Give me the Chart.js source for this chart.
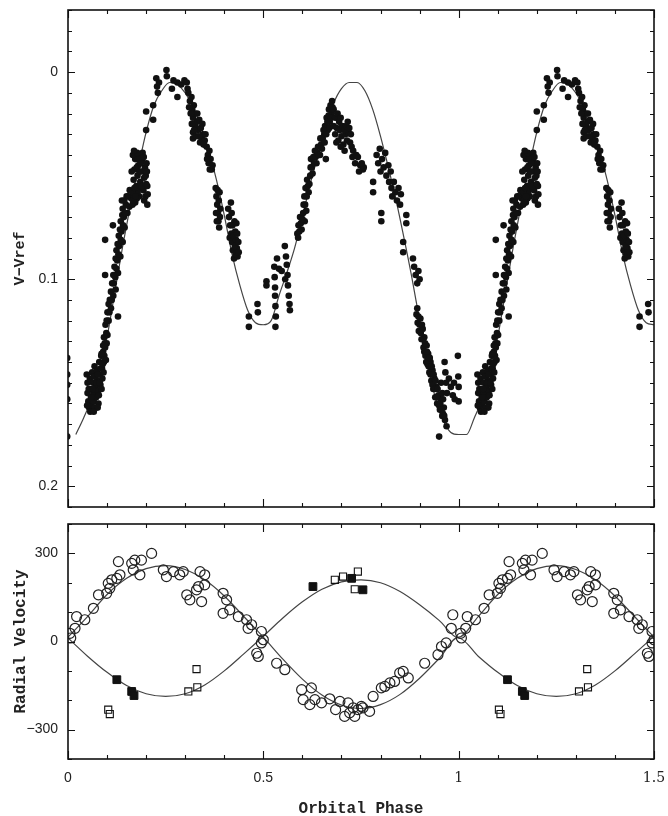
<!DOCTYPE html>
<html>
<head>
<meta charset="utf-8">
<script src="https://cdn.jsdelivr.net/npm/chart.js@4.4.0/dist/chart.umd.min.js"></script>
<style>
  html, body { margin: 0; padding: 0; background: #fff; overflow: hidden; }
  #lc { position: absolute; left: 0; top: 0; }
  #rv { position: absolute; left: 0; top: 515px; }
</style>
</head>
<body>
<canvas id="lc" width="668" height="515"></canvas>
<canvas id="rv" width="668" height="306"></canvas>
<script>
// light curve: [phase, V-Vref], one orbit (0..1), the part up to 0.5 is repeated at phase+1
const lcPoints = [
  [-0.002,0.138],[-0.002,0.146],[-0.002,0.151],[-0.002,0.158],[-0.002,0.176],
  // rising branch, bottom
  [0.048,0.146],[0.050,0.150],[0.050,0.155],[0.052,0.159],[0.054,0.162],[0.056,0.148],[0.058,0.153],
  [0.059,0.157],[0.060,0.161],[0.062,0.145],[0.064,0.150],[0.065,0.155],[0.066,0.159],[0.068,0.142],
  [0.070,0.147],[0.071,0.152],[0.072,0.157],[0.074,0.144],[0.075,0.149],[0.077,0.154],[0.078,0.160],
  [0.080,0.140],[0.082,0.146],[0.083,0.151],[0.085,0.137],[0.087,0.143],[0.088,0.148],[0.090,0.135],
  [0.092,0.140],[0.094,0.131],
  [0.049,0.161],[0.053,0.153],[0.057,0.164],[0.061,0.157],[0.063,0.153],[0.067,0.147],[0.069,0.162],
  [0.073,0.150],[0.076,0.146],[0.079,0.156],[0.081,0.150],[0.084,0.143],[0.086,0.153],[0.089,0.141],
  [0.091,0.145],[0.093,0.137],[0.097,0.139],[0.099,0.131],[0.076,0.162],[0.066,0.164],
  // rising branch, middle
  [0.086,0.136],[0.095,0.133],[0.092,0.128],[0.101,0.127],[0.096,0.122],[0.104,0.120],[0.101,0.116],
  [0.110,0.114],[0.107,0.110],[0.116,0.108],[0.122,0.105],[0.113,0.102],[0.121,0.099],[0.128,0.097],
  [0.119,0.094],[0.126,0.091],[0.134,0.089],[0.124,0.086],[0.131,0.084],[0.140,0.082],[0.130,0.079],
  [0.137,0.077],[0.145,0.075],[0.135,0.072],[0.143,0.070],[0.152,0.068],[0.140,0.066],[0.148,0.064],
  [0.157,0.065],[0.138,0.062],[0.150,0.060],[0.162,0.061],[0.172,0.063],[0.182,0.060],[0.186,0.056],
  [0.090,0.132],[0.098,0.126],[0.099,0.120],[0.106,0.116],[0.104,0.112],[0.112,0.110],[0.110,0.106],
  [0.117,0.102],[0.116,0.098],[0.124,0.095],[0.122,0.090],[0.129,0.088],[0.127,0.083],[0.135,0.081],
  [0.133,0.076],[0.141,0.074],[0.139,0.069],[0.146,0.068],[0.144,0.062],[0.155,0.060],[0.158,0.057],
  [0.165,0.064],[0.168,0.060],[0.176,0.061],[0.178,0.058],
  [0.128,0.118],[0.095,0.081],[0.095,0.098],[0.115,0.074],
  // rising branch, top cluster
  [0.165,0.058],[0.168,0.052],[0.170,0.047],[0.172,0.042],[0.175,0.055],[0.178,0.050],[0.180,0.045],
  [0.182,0.040],[0.185,0.053],[0.188,0.048],[0.190,0.043],[0.193,0.057],[0.195,0.051],[0.197,0.046],
  [0.199,0.050],[0.201,0.044],[0.203,0.055],[0.166,0.040],[0.195,0.062],[0.203,0.064],
  [0.163,0.048],[0.167,0.062],[0.170,0.056],[0.173,0.060],[0.176,0.046],[0.179,0.042],[0.183,0.048],
  [0.186,0.044],[0.189,0.055],[0.191,0.039],[0.194,0.041],[0.198,0.060],[0.200,0.054],[0.202,0.048],
  [0.204,0.059],[0.177,0.039],[0.169,0.038],
  // first maximum
  [0.200,0.028],[0.200,0.019],[0.218,0.016],[0.218,0.023],[0.226,0.003],[0.228,0.007],[0.230,0.010],
  [0.233,0.005],[0.252,-0.001],[0.253,0.002],[0.266,0.008],[0.280,0.012],[0.280,0.005],[0.270,0.004],
  [0.290,0.006],[0.298,0.004],[0.304,0.005],[0.306,0.008],
  // descending branch
  [0.308,0.010],[0.312,0.014],[0.316,0.012],[0.318,0.018],[0.320,0.022],[0.322,0.016],[0.325,0.020],
  [0.326,0.026],[0.320,0.029],[0.320,0.032],[0.330,0.024],[0.333,0.028],[0.336,0.023],[0.340,0.027],
  [0.342,0.032],[0.345,0.030],[0.350,0.033],[0.355,0.036],[0.358,0.040],[0.360,0.044],[0.365,0.042],
  [0.368,0.047],[0.378,0.056],[0.380,0.060],[0.382,0.064],[0.384,0.068],[0.385,0.072],[0.388,0.058],
  [0.390,0.066],[0.412,0.070],[0.415,0.074],[0.417,0.063],[0.418,0.078],[0.420,0.082],[0.422,0.086],
  [0.425,0.090],[0.426,0.072],[0.428,0.077],[0.430,0.081],[0.432,0.085],[0.434,0.089],[0.410,0.066],
  [0.310,0.017],[0.314,0.020],[0.317,0.025],[0.323,0.028],[0.328,0.031],[0.331,0.020],[0.335,0.031],
  [0.338,0.034],[0.344,0.025],[0.347,0.035],[0.352,0.030],[0.356,0.042],[0.362,0.038],[0.363,0.047],
  [0.370,0.045],[0.379,0.068],[0.381,0.072],[0.383,0.057],[0.386,0.062],[0.389,0.070],[0.387,0.075],
  [0.414,0.080],[0.419,0.068],[0.421,0.074],[0.423,0.079],[0.427,0.084],[0.429,0.088],[0.431,0.073],
  [0.433,0.078],[0.436,0.082],[0.437,0.087],
  // secondary minimum
  [0.463,0.118],[0.463,0.123],[0.485,0.112],[0.486,0.116],[0.508,0.101],[0.508,0.103],
  [0.528,0.094],[0.529,0.099],[0.530,0.104],[0.530,0.108],[0.531,0.113],[0.532,0.118],[0.531,0.123],
  [0.535,0.090],[0.540,0.095],[0.547,0.096],[0.555,0.084],[0.558,0.089],[0.560,0.093],[0.562,0.098],
  [0.563,0.103],[0.565,0.108],[0.567,0.112],[0.568,0.115],[0.556,0.100],
  // second rising branch
  [0.587,0.078],[0.590,0.074],[0.594,0.070],[0.598,0.076],[0.602,0.068],[0.606,0.072],[0.610,0.067],
  [0.605,0.060],[0.608,0.056],[0.612,0.052],[0.616,0.058],[0.620,0.050],[0.624,0.046],[0.622,0.042],
  [0.628,0.041],[0.632,0.038],[0.636,0.044],[0.640,0.036],[0.645,0.040],[0.648,0.035],[0.652,0.032],
  [0.656,0.030],[0.658,0.026],[0.660,0.042],[0.662,0.022],[0.665,0.028],[0.668,0.018],[0.670,0.024],
  [0.672,0.016],[0.675,0.020],
  [0.589,0.080],[0.592,0.077],[0.596,0.073],[0.600,0.071],[0.603,0.064],[0.607,0.064],[0.611,0.060],
  [0.614,0.055],[0.618,0.054],[0.621,0.046],[0.626,0.049],[0.630,0.044],[0.634,0.041],[0.638,0.039],
  [0.642,0.040],[0.646,0.032],[0.650,0.037],[0.654,0.028],[0.657,0.034],[0.661,0.030],[0.664,0.024],
  [0.667,0.021],[0.669,0.027],[0.673,0.022],[0.677,0.017],
  // second maximum (below the fit)
  [0.680,0.026],[0.684,0.030],[0.688,0.027],[0.692,0.033],[0.696,0.028],[0.700,0.031],[0.705,0.035],
  [0.710,0.030],[0.714,0.033],[0.718,0.029],[0.722,0.034],[0.726,0.036],[0.728,0.041],[0.735,0.044],
  [0.742,0.041],[0.748,0.045],[0.755,0.047],[0.757,0.046],
  [0.676,0.014],[0.680,0.018],[0.684,0.022],[0.690,0.020],[0.694,0.024],[0.698,0.022],[0.702,0.026],
  [0.707,0.028],[0.712,0.026],[0.716,0.024],[0.720,0.027],[0.724,0.030],[0.687,0.034],[0.698,0.036],
  [0.708,0.038],[0.730,0.038],[0.738,0.040],[0.745,0.048],[0.752,0.044],
  // second descending branch
  [0.781,0.053],[0.781,0.058],[0.790,0.040],[0.794,0.044],[0.798,0.037],[0.800,0.048],[0.804,0.042],
  [0.808,0.046],[0.812,0.039],[0.815,0.050],[0.820,0.045],[0.822,0.053],[0.826,0.048],[0.828,0.056],
  [0.830,0.060],[0.834,0.053],[0.838,0.058],[0.842,0.062],[0.846,0.056],[0.850,0.064],[0.852,0.059],
  [0.802,0.068],[0.802,0.072],[0.866,0.069],[0.866,0.073],[0.858,0.082],[0.858,0.087],[0.883,0.090],
  [0.886,0.094],[0.890,0.098],[0.894,0.102],[0.897,0.096],[0.900,0.100],
  [0.892,0.117],[0.895,0.121],[0.898,0.125],[0.902,0.119],[0.905,0.129],[0.908,0.124],[0.910,0.133],
  [0.912,0.128],[0.915,0.137],[0.918,0.132],[0.920,0.141],[0.922,0.136],[0.925,0.145],[0.928,0.140],
  [0.930,0.149],[0.933,0.144],[0.935,0.153],[0.938,0.148],[0.940,0.157],[0.943,0.152],[0.945,0.160],
  [0.948,0.156],[0.952,0.163],[0.955,0.158],[0.958,0.166],[0.962,0.162],[0.965,0.168],[0.950,0.176],
  [0.969,0.171],
  [0.894,0.114],[0.897,0.118],[0.900,0.122],[0.903,0.126],[0.906,0.122],[0.909,0.129],[0.912,0.135],
  [0.914,0.131],[0.917,0.140],[0.919,0.135],[0.923,0.142],[0.926,0.138],[0.928,0.146],[0.931,0.142],
  [0.933,0.151],[0.936,0.146],[0.939,0.153],[0.941,0.149],[0.944,0.157],[0.946,0.153],[0.950,0.161],
  [0.953,0.160],[0.956,0.163],[0.960,0.165],[0.963,0.166],[0.960,0.158],[0.955,0.150],[0.958,0.155],
  // primary minimum scatter
  [0.964,0.140],[0.966,0.145],[0.968,0.150],[0.970,0.155],[0.975,0.148],[0.980,0.152],[0.985,0.156],
  [0.988,0.150],[0.990,0.158],[0.998,0.137],[0.999,0.147],[1.000,0.152],[1.000,0.159]
];

// fitted light curve
const lcModel = [
  [0.02,0.175],[0.04,0.167],[0.06,0.158],[0.08,0.145],[0.10,0.128],[0.12,0.106],[0.14,0.084],
  [0.16,0.064],[0.18,0.046],[0.20,0.029],[0.22,0.016],[0.24,0.009],[0.26,0.005],[0.28,0.006],
  [0.30,0.010],[0.32,0.017],[0.34,0.026],[0.36,0.038],[0.38,0.052],[0.40,0.069],[0.42,0.088],
  [0.44,0.103],[0.46,0.115],[0.48,0.121],[0.50,0.122],[0.52,0.120],[0.54,0.108],[0.56,0.097],
  [0.58,0.085],[0.60,0.070],[0.62,0.054],[0.64,0.040],[0.66,0.026],[0.68,0.015],[0.70,0.008],
  [0.72,0.005],[0.74,0.005],[0.76,0.009],[0.78,0.018],[0.80,0.031],[0.82,0.046],[0.84,0.062],
  [0.86,0.080],[0.88,0.099],[0.90,0.120],[0.92,0.140],[0.94,0.157],[0.96,0.168],[0.98,0.174],
  [1.00,0.175]
];

// radial velocities [phase, km/s]
const rvPrimary = [
  [0.005,28],[0.007,12],[0.018,45],[0.022,85],[0.043,74],[0.065,113],[0.078,159],[0.099,164],
  [0.103,198],[0.107,181],[0.112,210],[0.125,215],[0.129,272],[0.133,227],[0.163,266],[0.167,244],
  [0.171,277],[0.184,227],[0.188,277],[0.214,300],[0.244,244],[0.252,221],[0.270,238],[0.286,227],
  [0.295,238],[0.304,159],[0.312,142],[0.329,176],[0.334,187],[0.342,136],[0.338,238],[0.350,227],
  [0.350,193],[0.397,164],[0.406,142],[0.397,96],[0.414,108],[0.436,85],[0.457,74],[0.461,45],
  [0.470,57],[0.495,34],[0.500,6],[0.495,-5],[0.483,-40],[0.487,-51],
  [0.534,-74],[0.555,-96],[0.598,-164],[0.623,-158],[0.602,-198],[0.619,-215],[0.632,-198],
  [0.649,-209],[0.670,-195],[0.685,-232],[0.696,-204],[0.708,-255],[0.717,-209],[0.721,-243],
  [0.730,-226],[0.734,-255],[0.742,-232],[0.751,-221],[0.755,-226],[0.772,-238],[0.781,-187],
  [0.802,-158],[0.811,-153],[0.824,-141],[0.836,-136],[0.849,-107],[0.858,-102],[0.871,-124],
  [0.913,-74],[0.947,-45],[0.956,-17],[0.968,-5],[0.981,45],[0.985,91]
];
const rvSecondaryOpen = [
  [0.103,-232],[0.107,-247],[0.308,-170],[0.331,-156],[0.329,-94],
  [0.683,210],[0.704,221],[0.742,238],[0.734,178]
];
const rvSecondaryFilled = [
  [0.125,-130],[0.163,-170],[0.169,-184],[0.627,187],[0.726,215],[0.755,176]
];
const rvPrimaryModel = [
  [0,15],[0.05,85],[0.10,160],[0.15,215],[0.20,248],[0.25,258],[0.30,245],[0.35,210],[0.40,155],
  [0.45,85],[0.50,15],[0.55,-60],[0.60,-128],[0.65,-182],[0.70,-216],[0.75,-228],[0.80,-215],
  [0.85,-180],[0.90,-125],[0.95,-58],[1.00,15]
];
const rvSecondaryModel = [
  [0,12],[0.05,-50],[0.10,-105],[0.15,-150],[0.20,-178],[0.25,-187],[0.30,-178],[0.35,-148],
  [0.40,-100],[0.45,-42],[0.50,18],[0.55,80],[0.60,135],[0.65,178],[0.70,203],[0.75,210],
  [0.80,200],[0.85,170],[0.90,125],[0.95,72],[1.00,12]
];

// tick positions and labelled ticks
const phaseTicks = [0,0.1,0.2,0.3,0.4,0.5,0.6,0.7,0.8,0.9,1,1.1,1.2,1.3,1.4,1.5];
const phaseMajor = [0,0.5,1,1.5];
const lcTicks = [-0.03,-0.02,-0.01,0,0.01,0.02,0.03,0.04,0.05,0.06,0.07,0.08,0.09,0.1,0.11,0.12,
  0.13,0.14,0.15,0.16,0.17,0.18,0.19,0.2,0.21];
const lcMajor = [0,0.1,0.2];
const rvTicks = [-400,-300,-200,-100,0,100,200,300,400];
const rvMajor = [-300,0,300];

// phase-fold: show 0..0.5 again at 1..1.5
const fold = arr => arr.concat(arr.filter(p => p[0] >= 0 && p[0] <= 0.5).map(p => [p[0] + 1, p[1]]))
  .map(p => ({ x: p[0], y: p[1] }));

const ink = '#111';
const titleFont = { family: 'Liberation Mono', size: 16, weight: 'bold' };

function framePlugin(xTicks, xMajor, yTicks, yMajor) {
  return {
    id: 'frame',
    afterDatasetsDraw(chart) {
      const { ctx, chartArea: a, scales } = chart;
      ctx.save();
      ctx.strokeStyle = ink;
      ctx.lineWidth = 1.1;
      ctx.beginPath();
      xTicks.forEach(v => {
        const px = Math.round(scales.x.getPixelForValue(v)) + 0.5;
        const len = xMajor.includes(v) ? 8 : 4;
        ctx.moveTo(px, a.bottom); ctx.lineTo(px, a.bottom - len);
        ctx.moveTo(px, a.top); ctx.lineTo(px, a.top + len);
      });
      yTicks.forEach(v => {
        const py = Math.round(scales.y.getPixelForValue(v)) + 0.5;
        const len = yMajor.includes(v) ? 7 : 4;
        ctx.moveTo(a.left, py); ctx.lineTo(a.left + len, py);
        ctx.moveTo(a.right, py); ctx.lineTo(a.right - len, py);
      });
      ctx.stroke();
      ctx.lineWidth = 1.6;
      ctx.strokeRect(a.left, a.top, a.right - a.left, a.bottom - a.top);
      ctx.restore();
    }
  };
}

// y axes: fixed width, no extra room for half labels
const fitY = s => { s.width = 68; s.paddingTop = 0; s.paddingBottom = 0; };

Chart.defaults.color = '#222';

new Chart(document.getElementById('lc'), {
  type: 'scatter',
  data: {
    datasets: [
      {
        data: fold(lcPoints),
        pointRadius: 3.3,
        pointBackgroundColor: ink,
        pointBorderWidth: 0,
        clip: 0
      },
      {
        data: fold(lcModel),
        showLine: true,
        pointRadius: 0,
        borderColor: '#444',
        borderWidth: 1.2,
        cubicInterpolationMode: 'monotone',
        clip: 0
      }
    ]
  },
  options: {
    responsive: false,
    animation: false,
    events: [],
    layout: { padding: { top: 10, right: 14, bottom: 8, left: 0 } },
    plugins: { legend: { display: false }, tooltip: { enabled: false } },
    scales: {
      x: { type: 'linear', min: 0, max: 1.5, display: false },
      y: {
        type: 'linear',
        min: -0.03,
        max: 0.21,
        reverse: true,
        grid: { display: false, drawTicks: false },
        border: { display: false },
        afterBuildTicks: s => { s.ticks = lcTicks.map(v => ({ value: v })); },
        afterFit: fitY,
        ticks: {
          autoSkip: false,
          padding: 10,
          font: { family: 'Liberation Sans', size: 14 },
          callback: v => lcMajor.includes(v) ? String(v) : ''
        },
        title: {
          display: true,
          text: 'V\u2212Vref',
          padding: { top: 11, bottom: 0 },
          font: { family: 'Liberation Mono', size: 15, weight: 'bold' }
        }
      }
    }
  },
  plugins: [framePlugin(phaseTicks, phaseMajor, lcTicks, lcMajor)]
});

new Chart(document.getElementById('rv'), {
  type: 'scatter',
  data: {
    datasets: [
      {
        data: fold(rvSecondaryFilled),
        pointStyle: 'rect',
        pointRadius: 5.5,
        pointBackgroundColor: ink,
        pointBorderColor: ink,
        pointBorderWidth: 1,
        clip: 0
      },
      {
        data: fold(rvSecondaryOpen),
        pointStyle: 'rect',
        pointRadius: 5,
        pointBackgroundColor: 'rgba(0,0,0,0)',
        pointBorderColor: ink,
        pointBorderWidth: 1.1,
        clip: 0
      },
      {
        data: fold(rvPrimary),
        pointStyle: 'circle',
        pointRadius: 5,
        pointBackgroundColor: 'rgba(0,0,0,0)',
        pointBorderColor: '#222',
        pointBorderWidth: 1.2,
        clip: 0
      },
      {
        data: fold(rvPrimaryModel),
        showLine: true,
        pointRadius: 0,
        borderColor: '#444',
        borderWidth: 1.2,
        cubicInterpolationMode: 'monotone',
        clip: 0
      },
      {
        data: fold(rvSecondaryModel),
        showLine: true,
        pointRadius: 0,
        borderColor: '#444',
        borderWidth: 1.2,
        cubicInterpolationMode: 'monotone',
        clip: 0
      }
    ]
  },
  options: {
    responsive: false,
    animation: false,
    events: [],
    layout: { padding: { top: 9, right: 14, bottom: 0, left: 0 } },
    plugins: { legend: { display: false }, tooltip: { enabled: false } },
    scales: {
      x: {
        type: 'linear',
        min: 0,
        max: 1.5,
        grid: { display: false, drawTicks: false },
        border: { display: false },
        afterBuildTicks: s => { s.ticks = phaseTicks.map(v => ({ value: v })); },
        afterFit: s => { s.height = 62; s.paddingLeft = 0; s.paddingRight = 0; },
        ticks: {
          autoSkip: false,
          maxRotation: 0,
          padding: 11,
          font: c => ({ family: c.tick && c.tick.value >= 1 ? 'DejaVu Serif' : 'Liberation Sans', size: 14 }),
          callback: v => phaseMajor.includes(v) ? String(v) : ''
        },
        title: {
          display: true,
          text: 'Orbital Phase',
          padding: { top: 0, bottom: 2 },
          font: titleFont
        }
      },
      y: {
        type: 'linear',
        min: -400,
        max: 400,
        grid: { display: false, drawTicks: false },
        border: { display: false },
        afterBuildTicks: s => { s.ticks = rvTicks.map(v => ({ value: v })); },
        afterFit: fitY,
        ticks: {
          autoSkip: false,
          padding: 10,
          font: { family: 'Liberation Sans', size: 14 },
          callback: v => rvMajor.includes(v) ? (v < 0 ? '\u2212' + Math.abs(v) : String(v)) : ''
        },
        title: {
          display: true,
          text: 'Radial Velocity',
          padding: { top: 11, bottom: 0 },
          font: titleFont
        }
      }
    }
  },
  plugins: [framePlugin(phaseTicks, phaseMajor, rvTicks, rvMajor)]
});
</script>
</body>
</html>
